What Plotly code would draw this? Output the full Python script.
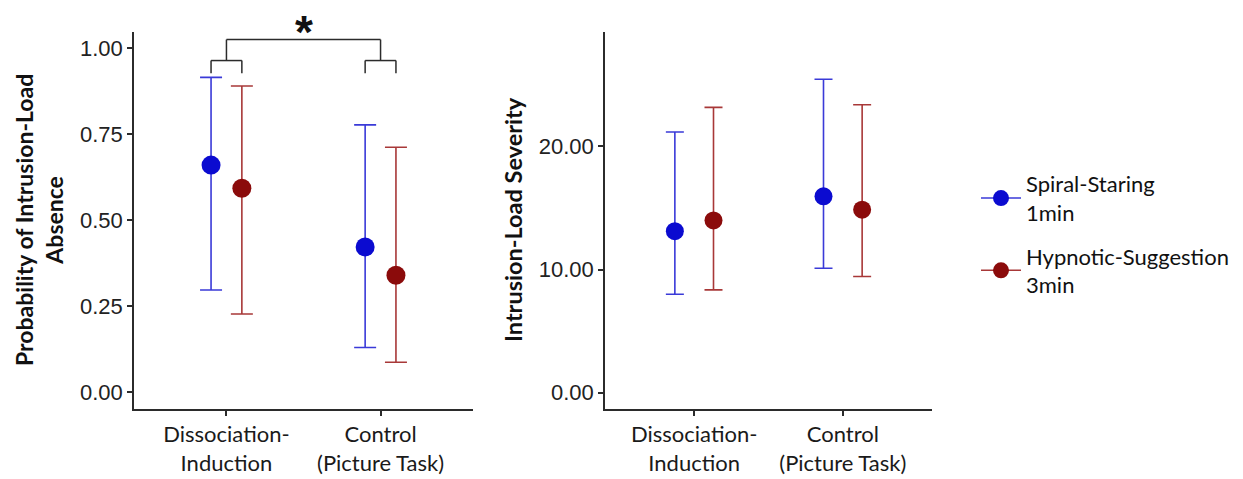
import plotly.graph_objects as go

# ---------------- data ----------------
categories = ["Dissociation-<br>Induction", "Control<br>(Picture Task)"]
cat_pos = [1, 2]
groups = ["Spiral-Staring<br>1min", "Hypnotic-Suggestion<br>3min"]

# Probability of intrusion-load absence
prob_spiral_mean = [0.660, 0.422]
prob_spiral_lo = [0.297, 0.130]
prob_spiral_hi = [0.915, 0.777]
prob_hypno_mean = [0.593, 0.340]
prob_hypno_lo = [0.227, 0.087]
prob_hypno_hi = [0.890, 0.712]

# Intrusion-load severity
sev_spiral_mean = [13.12, 15.95]
sev_spiral_lo = [7.99, 10.10]
sev_spiral_hi = [21.17, 25.46]
sev_hypno_mean = [13.99, 14.86]
sev_hypno_lo = [8.35, 9.43]
sev_hypno_hi = [23.18, 23.39]

prob_ticks = [0.0, 0.25, 0.5, 0.75, 1.0]
sev_ticks = [0, 10, 20]

# significance bracket (left panel)
bracket_top = 1.025
bracket_mid = 0.964
bracket_leg = 0.927
bracket_label = "*"

# ---------------- styling ----------------
BLUE = "#0b0bd0"
BLUE_ERR = "#3a3ad8"
RED = "#8b0b0b"
RED_ERR = "#a83838"
AX = "#2b2b2b"
TXT_FONT = "Lato"
TICK_FONT = "Liberation Sans"

dodge_left = 0.10
dodge_right = 0.13

fig = go.Figure()


def add_series(xaxis, yaxis, means, lo, hi, offset, color, ecolor, msize, capw):
    fig.add_trace(go.Scatter(
        x=[p + offset for p in cat_pos], y=means,
        mode="markers",
        marker=dict(color=color, size=msize, line=dict(width=0)),
        error_y=dict(type="data", symmetric=False,
                     array=[h - m for h, m in zip(hi, means)],
                     arrayminus=[m - l for m, l in zip(means, lo)],
                     color=ecolor, thickness=1.6, width=capw),
        xaxis=xaxis, yaxis=yaxis, showlegend=False, hoverinfo="skip"))


add_series("x", "y", prob_spiral_mean, prob_spiral_lo, prob_spiral_hi, -dodge_left, BLUE, BLUE_ERR, 19, 11)
add_series("x", "y", prob_hypno_mean, prob_hypno_lo, prob_hypno_hi, dodge_left, RED, RED_ERR, 19, 11)
add_series("x2", "y2", sev_spiral_mean, sev_spiral_lo, sev_spiral_hi, -dodge_right, BLUE, BLUE_ERR, 18, 9)
add_series("x2", "y2", sev_hypno_mean, sev_hypno_lo, sev_hypno_hi, dodge_right, RED, RED_ERR, 18, 9)

# legend entries
for i, (name, col, ecol) in enumerate([(groups[0], BLUE, BLUE_ERR), (groups[1], RED, RED_ERR)]):
    fig.add_trace(go.Scatter(
        x=[None], y=[None], mode="lines+markers", name=name, legendgroup="g%d" % i,
        marker=dict(color=col, size=17),
        line=dict(color=ecol, width=1.5),
        xaxis="x", yaxis="y", showlegend=True))

# significance bracket shapes
line_style = dict(color=AX, width=1.5)
shapes = []
shapes.append(dict(type="line", xref="x", yref="y", x0=cat_pos[0], x1=cat_pos[1],
                   y0=bracket_top, y1=bracket_top, line=line_style))
for c in cat_pos:
    shapes.append(dict(type="line", xref="x", yref="y", x0=c, x1=c,
                       y0=bracket_top, y1=bracket_mid, line=line_style))
    shapes.append(dict(type="line", xref="x", yref="y", x0=c - dodge_left, x1=c + dodge_left,
                       y0=bracket_mid, y1=bracket_mid, line=line_style))
    for s in (-dodge_left, dodge_left):
        shapes.append(dict(type="line", xref="x", yref="y", x0=c + s, x1=c + s,
                           y0=bracket_mid, y1=bracket_leg, line=line_style))

W, H = 1243, 479
yd = [1 - 409 / H, 1 - 32 / H]

axis_common = dict(showline=True, linecolor=AX, linewidth=1.5, ticks="outside",
                   ticklen=5, tickcolor=AX, tickwidth=1.5, showgrid=False,
                   zeroline=False, mirror=False)

fig.update_layout(
    width=W, height=H,
    margin=dict(l=0, r=0, t=0, b=0),
    paper_bgcolor="white", plot_bgcolor="white",
    shapes=shapes,
    xaxis=dict(domain=[134 / W, 473 / W], range=[0.4, 2.6], tickvals=cat_pos,
               ticktext=categories, tickfont=dict(family=TXT_FONT, size=22, color="#1a1a1a"),
               anchor="y", **axis_common),
    yaxis=dict(domain=yd, range=[-0.049, 1.047], tickvals=prob_ticks, tickformat=".2f",
               tickfont=dict(family=TICK_FONT, size=22, color="#222222"),
               anchor="x", **axis_common),
    xaxis2=dict(domain=[605 / W, 932 / W], range=[0.4, 2.6], tickvals=cat_pos,
                ticktext=categories, tickfont=dict(family=TXT_FONT, size=22, color="#1a1a1a"),
                anchor="y2", **axis_common),
    yaxis2=dict(domain=yd, range=[-1.33, 29.3], tickvals=sev_ticks, tickformat=".2f",
                tickfont=dict(family=TICK_FONT, size=22, color="#222222"),
                anchor="x2", **axis_common),
    legend=dict(x=976 / W, y=1 - 163 / H, xanchor="left", yanchor="top",
                font=dict(family=TXT_FONT, size=22, color="#111111"),
                bgcolor="rgba(0,0,0,0)", tracegroupgap=12, itemwidth=40),
    annotations=[
        dict(text="Probability of Intrusion-Load<br>Absence", xref="paper", yref="paper",
             x=39 / W, y=1 - 220 / H, xanchor="center", yanchor="middle", textangle=-90,
             showarrow=False, font=dict(family=TXT_FONT, size=23, color="#111111", weight="bold")),
        dict(text="Intrusion-Load Severity", xref="paper", yref="paper",
             x=513 / W, y=1 - 220 / H, xanchor="center", yanchor="middle", textangle=-90,
             showarrow=False, font=dict(family=TXT_FONT, size=23.5, color="#111111", weight="bold")),
        dict(text="<b>" + bracket_label + "</b>", xref="x", yref="y",
             x=sum(cat_pos) / 2, y=bracket_top, xanchor="center", yanchor="bottom",
             yshift=-20, showarrow=False,
             font=dict(family="Liberation Sans", size=46, color="#111111")),
    ],
)

fig.write_html("out.html")
